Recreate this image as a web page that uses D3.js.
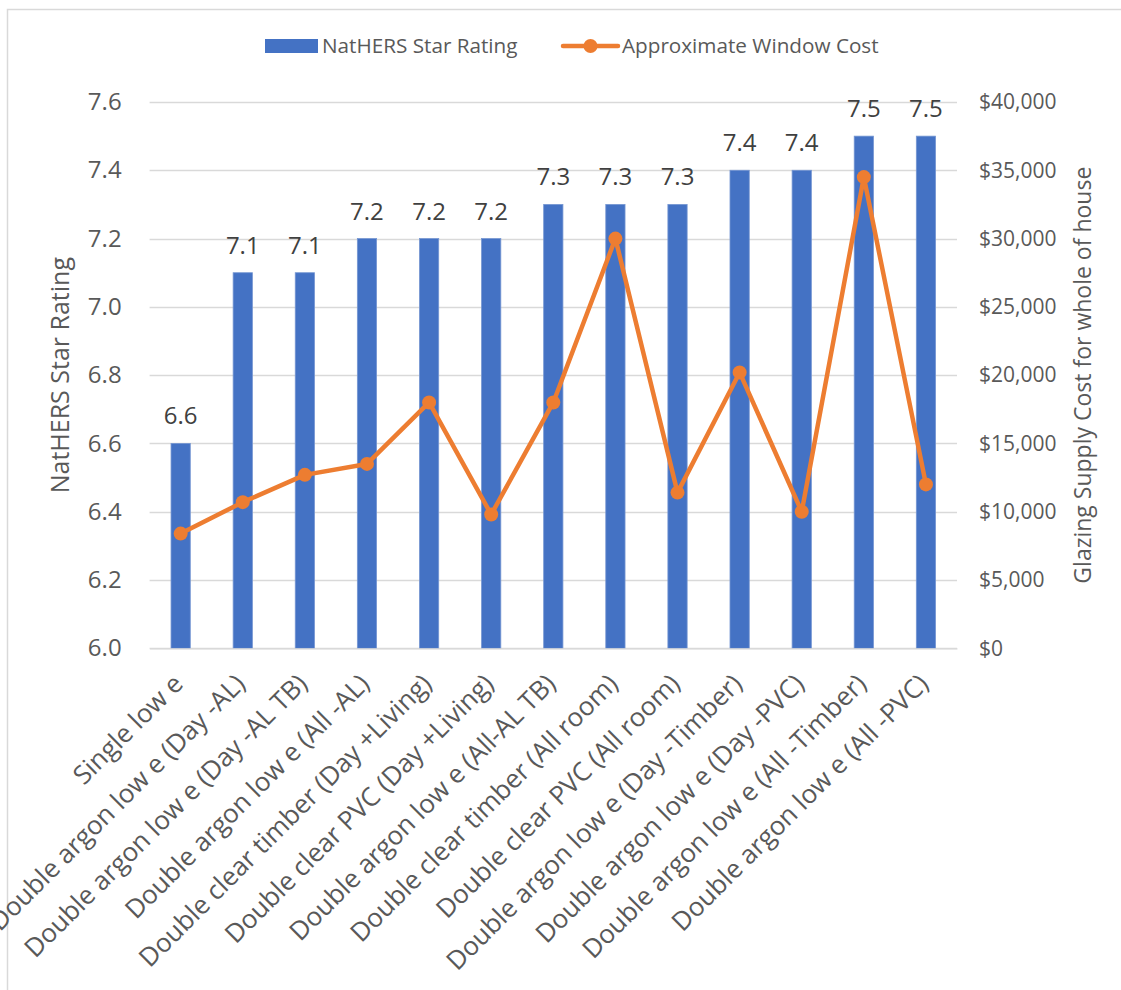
<!DOCTYPE html>
<html>
<head>
<meta charset="utf-8">
<script src="https://cdn.jsdelivr.net/npm/d3@7"></script>
<style>
  html, body { margin: 0; padding: 0; background: #fff; }
  svg text { font-family: "Open Sans", "Noto Sans", sans-serif; }
</style>
</head>
<body>
<svg id="chart" width="1121" height="990"></svg>
<script>
// Glazing options compared
const categories = [
  "Single low e",
  "Double argon low e (Day -AL)",
  "Double argon low e (Day -AL TB)",
  "Double argon low e (All -AL)",
  "Double clear timber (Day +Living)",
  "Double clear PVC (Day +Living)",
  "Double argon low e (All-AL TB)",
  "Double clear timber (All room)",
  "Double clear PVC (All room)",
  "Double argon low e (Day -Timber)",
  "Double argon low e (Day -PVC)",
  "Double argon low e (All -Timber)",
  "Double argon low e (All -PVC)"
];
// NatHERS star rating per option (bars, left axis)
const starRating = [6.6, 7.1, 7.1, 7.2, 7.2, 7.2, 7.3, 7.3, 7.3, 7.4, 7.4, 7.5, 7.5];
// Approximate window cost per option (line, right axis)
const windowCost = [8400, 10700, 12700, 13500, 18000, 9800, 18000, 30000, 11400, 20200, 10000, 34500, 12000];
// Axis ticks
const leftTicks = [6.0, 6.2, 6.4, 6.6, 6.8, 7.0, 7.2, 7.4, 7.6];
const rightTicks = [0, 5000, 10000, 15000, 20000, 25000, 30000, 35000, 40000];

const svg = d3.select("#chart");
const plot = { left: 149.6, right: 957, top: 102, bottom: 648.3 };

const x = d3.scaleBand().domain(categories).range([plot.left, plot.right]).paddingInner(0.69).paddingOuter(0.345);
const yL = d3.scaleLinear().domain([6.0, 7.6]).range([plot.bottom, plot.top]);
const yR = d3.scaleLinear().domain([0, 40000]).range([plot.bottom, plot.top]);

// chart frame
svg.append("rect").attr("x", 7.5).attr("y", 9.5).attr("width", 1140).attr("height", 1000)
  .attr("fill", "none").attr("stroke", "#d9d9d9").attr("stroke-width", 1.5);

// gridlines
svg.append("g").selectAll("line").data(leftTicks).join("line")
  .attr("x1", plot.left).attr("x2", plot.right)
  .attr("y1", d => Math.round(yL(d)) + 0.5).attr("y2", d => Math.round(yL(d)) + 0.5)
  .attr("stroke", "#d9d9d9").attr("stroke-width", 1.3);

// left axis
const leftAxis = svg.append("g").attr("transform", `translate(${plot.left},0)`)
  .call(d3.axisLeft(yL).tickValues(leftTicks).tickFormat(d3.format(".1f")).tickSize(0).tickPadding(28));
leftAxis.select(".domain").remove();
leftAxis.selectAll("text").attr("font-size", 24).attr("fill", "#595959")
  .style("font-family", "'Open Sans', sans-serif");

// right axis
const rightAxis = svg.append("g").attr("transform", `translate(${plot.right},0)`)
  .call(d3.axisRight(yR).tickValues(rightTicks).tickFormat(d => "$" + d3.format(",")(d)).tickSize(0).tickPadding(22));
rightAxis.select(".domain").remove();
rightAxis.selectAll("text").attr("font-size", 21).attr("fill", "#595959")
  .style("font-family", "'Open Sans', sans-serif");

// bars
svg.append("g").selectAll("rect").data(starRating).join("rect")
  .attr("x", (d, i) => x(categories[i]))
  .attr("width", x.bandwidth())
  .attr("y", d => yL(d))
  .attr("height", d => yL(6.0) - yL(d))
  .attr("fill", "#4472C4")
  .attr("stroke", "#7596d2").attr("stroke-width", 0.8);

// bar value labels
svg.append("g").selectAll("text").data(starRating).join("text")
  .attr("x", (d, i) => x(categories[i]) + x.bandwidth() / 2)
  .attr("y", d => yL(d) - 19)
  .attr("text-anchor", "middle")
  .attr("font-size", 24).attr("fill", "#404040")
  .text(d => d3.format(".1f")(d));

// category axis
const bottomAxis = svg.append("g").attr("transform", `translate(0,${plot.bottom})`)
  .call(d3.axisBottom(x).tickSize(0).tickPadding(0));
bottomAxis.select(".domain").attr("stroke", "#d9d9d9").attr("stroke-width", 1.3);
bottomAxis.selectAll("text")
  .attr("font-size", 26).attr("fill", "#595959")
  .style("font-family", "'Open Sans', sans-serif")
  .attr("text-anchor", "end")
  .attr("dy", 0)
  .attr("transform", "translate(4,37) rotate(-45)");

// cost line
const line = d3.line()
  .x((d, i) => x(categories[i]) + x.bandwidth() / 2)
  .y(d => yR(d));
svg.append("path").datum(windowCost)
  .attr("d", line).attr("fill", "none")
  .attr("stroke", "#ED7D31").attr("stroke-width", 4.5).attr("stroke-linejoin", "round");
svg.append("g").selectAll("circle").data(windowCost).join("circle")
  .attr("cx", (d, i) => x(categories[i]) + x.bandwidth() / 2)
  .attr("cy", d => yR(d))
  .attr("r", 7).attr("fill", "#ED7D31");

// axis titles
svg.append("text")
  .attr("transform", `translate(69,${(plot.top + plot.bottom) / 2}) rotate(-90)`)
  .attr("text-anchor", "middle").attr("font-size", 25).attr("fill", "#595959")
  .text("NatHERS Star Rating");
svg.append("text")
  .attr("transform", `translate(1091,${(plot.top + plot.bottom) / 2}) rotate(-90)`)
  .attr("text-anchor", "middle").attr("font-size", 23).attr("fill", "#595959")
  .text("Glazing Supply Cost for whole of house");

// legend
const legend = svg.append("g");
legend.append("rect").attr("x", 265).attr("y", 39).attr("width", 53).attr("height", 14).attr("fill", "#4472C4");
legend.append("text").attr("x", 322).attr("y", 53).attr("font-size", 20.7).attr("fill", "#595959").text("NatHERS Star Rating");
legend.append("line").attr("x1", 563).attr("x2", 618).attr("y1", 46).attr("y2", 46)
  .attr("stroke", "#ED7D31").attr("stroke-width", 4.5).attr("stroke-linecap", "round");
legend.append("circle").attr("cx", 590.5).attr("cy", 46).attr("r", 7).attr("fill", "#ED7D31");
legend.append("text").attr("x", 622).attr("y", 53).attr("font-size", 20.7).attr("fill", "#595959").text("Approximate Window Cost");
</script>
</body>
</html>
